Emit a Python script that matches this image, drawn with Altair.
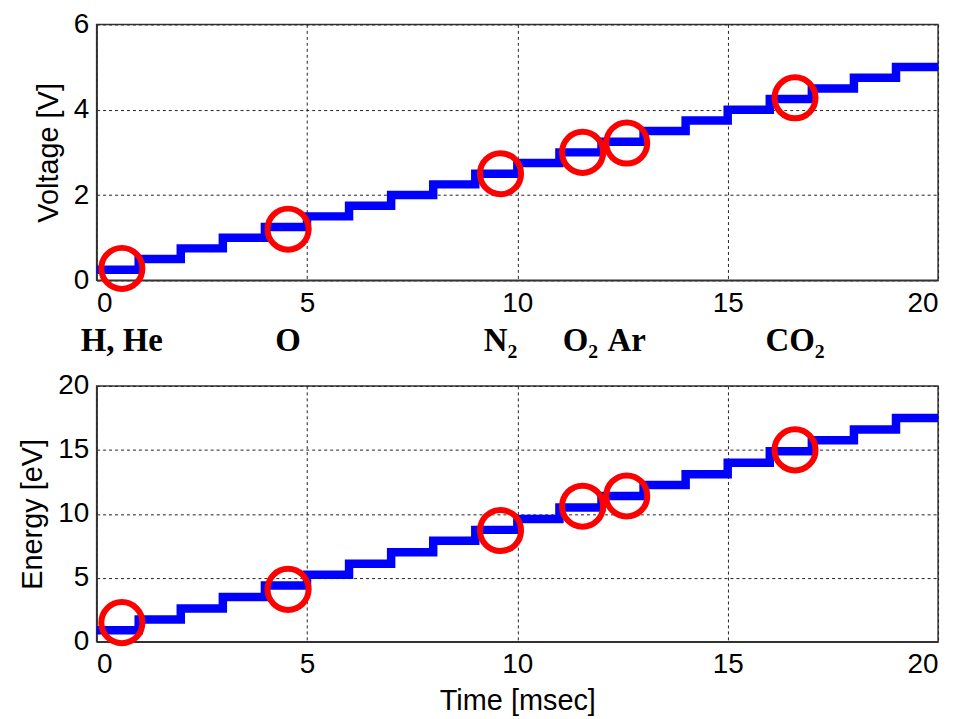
import altair as alt
import pandas as pd

# Step levels (value held from each time to the next)
step_time = [0, 1, 2, 3, 4, 5, 6, 7, 8, 9, 10, 11, 12, 13, 14, 15, 16, 17, 18, 19, 20]
voltage = [0.25, 0.5, 0.75, 1.0, 1.25, 1.5, 1.75, 2.0, 2.25, 2.5, 2.75, 3.0, 3.25,
           3.5, 3.75, 4.0, 4.25, 4.5, 4.75, 5.0, 5.0]
energy = [0.9, 1.75, 2.6, 3.5, 4.4, 5.25, 6.1, 7.0, 7.9, 8.75, 9.6, 10.5, 11.4,
          12.25, 13.1, 14.0, 14.9, 15.75, 16.6, 17.5, 17.5]

# Marked gases
gas_time = [0.6, 4.55, 9.6, 11.55, 12.6, 16.6]
gas_voltage = [0.28, 1.2, 2.5, 3.0, 3.22, 4.28]
gas_energy = [1.5, 4.1, 8.7, 10.6, 11.4, 15.0]

label_text = ["H, He", "O", "N\u2082", "O\u2082", "Ar", "CO\u2082"]
label_time = [0.6, 4.55, 9.6, 11.5, 12.6, 16.6]

x_ticks = [0, 5, 10, 15, 20]

steps = pd.DataFrame({"t": step_time, "v": voltage, "e": energy})
gases = pd.DataFrame({"t": gas_time, "v": gas_voltage, "e": gas_energy})
labels = pd.DataFrame({"t": label_time, "txt": label_text})

W, H = 845, 257
xscale = alt.Scale(domain=[0, 20], nice=False, zero=False)


def panel(field, ytitle, ymax, yticks, xtitle, with_labels):
    yscale = alt.Scale(domain=[0, ymax], nice=False)
    xaxis = alt.Axis(values=x_ticks, title=xtitle, format="d")
    yaxis = alt.Axis(values=yticks, title=ytitle, format="d")
    line = alt.Chart(steps).mark_line(
        interpolate="step-after", color="#0000FF", strokeWidth=8.5, strokeCap="butt"
    ).encode(
        x=alt.X("t:Q", scale=xscale, axis=xaxis),
        y=alt.Y(f"{field}:Q", scale=yscale, axis=yaxis),
    )
    circ = alt.Chart(gases).mark_point(
        shape="circle", filled=False, color="#FF0000", strokeWidth=6, size=1700, opacity=1
    ).encode(
        x=alt.X("t:Q", scale=xscale),
        y=alt.Y(f"{field}:Q", scale=yscale),
    )
    layers = [line, circ]
    if with_labels:
        txt = alt.Chart(labels).mark_text(
            font="Liberation Serif", fontWeight="bold", fontSize=33,
            baseline="middle", align="center", color="black"
        ).encode(
            x=alt.X("t:Q", scale=xscale),
            y=alt.value(H + 61),
            text="txt:N",
        )
        layers.append(txt)
    return alt.layer(*layers).properties(width=W, height=H)


top = panel("v", "Voltage [V]", 6, [0, 2, 4, 6], None, True)
bottom = panel("e", "Energy [eV]", 20, [0, 5, 10, 15, 20], "Time [msec]", False)

chart = alt.vconcat(top, bottom, spacing=12).properties(
    padding={"left": 10, "top": 0, "right": 0, "bottom": 0}
).configure_view(
    stroke="#333333", strokeWidth=1.5
).configure_axis(
    grid=True, gridColor="#222222", gridDash=[3, 3], gridWidth=1, gridOpacity=1,
    domain=True, domainColor="#333333", domainWidth=1.5,
    ticks=False,
    labelFont="Liberation Sans", labelFontSize=28, labelColor="black", labelPadding=8,
    titleFont="Liberation Sans", titleFontSize=29, titleFontWeight="normal",
    titleColor="black", titlePadding=10,
).configure_axisX(labelPadding=9, titlePadding=8)

chart.save("out.html", embed_options={"renderer": "svg", "actions": False})
